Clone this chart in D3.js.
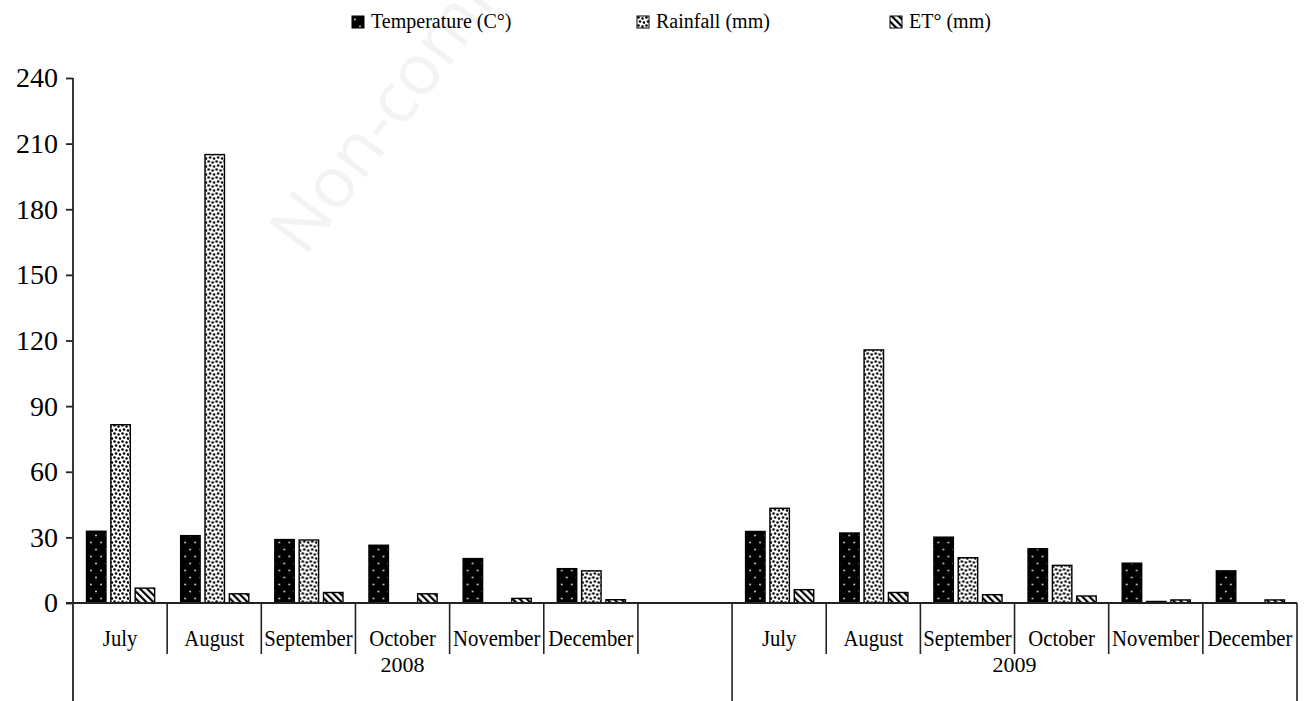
<!DOCTYPE html>
<html>
<head>
<meta charset="utf-8">
<script src="https://cdn.jsdelivr.net/npm/d3@7"></script>
<style>
  body { margin: 0; background: #fff; }
  svg { display: block; }
  text { font-family: "Liberation Serif", "DejaVu Serif", serif; fill: #000; }
</style>
</head>
<body>
<svg id="chart" width="1304" height="701"></svg>
<script>
// values
const months = ["July", "August", "September", "October", "November", "December"];
const years = ["2008", "2009"];
const series = ["Temperature (C°)", "Rainfall (mm)", "ET° (mm)"];
const yTicks = [0, 30, 60, 90, 120, 150, 180, 210, 240];

const temperature2008 = [32.8, 30.8, 29.0, 26.4, 20.3, 15.7];
const rainfall2008 = [81.5, 205, 28.8, 0, 0, 14.7];
const et2008 = [6.8, 4.2, 4.8, 4.2, 2.1, 1.5];

const temperature2009 = [32.7, 32.0, 30.1, 24.8, 18.2, 14.7];
const rainfall2009 = [43.3, 115.7, 20.7, 17.2, 0.7, 0];
const et2009 = [6.1, 4.8, 3.8, 3.2, 1.4, 1.4];

// 2008 has one empty slot after December
const yearSlots = { "2008": months.concat([""]), "2009": months };
const byYear = {
  "2008": [temperature2008, rainfall2008, et2008],
  "2009": [temperature2009, rainfall2009, et2009]
};

const rows = [];
years.forEach(yr => {
  yearSlots[yr].forEach((m, i) => {
    const vals = m ? byYear[yr].map(s => s[i]) : null;
    rows.push({ key: yr + "-" + (m || "gap"), year: yr, month: m, values: vals });
  });
});

const svg = d3.select("#chart");
const plotLeft = 73, plotRight = 1297, plotTop = 78, plotBase = 603;

const x0 = d3.scaleBand().domain(rows.map(d => d.key)).range([plotLeft, plotRight]).padding(0);
const x1 = d3.scaleBand().domain(series).range([13.5, x0.bandwidth() - 12.5]).paddingInner(0.2);
const y = d3.scaleLinear().domain([0, 240]).range([plotBase, plotTop]);

// fill patterns
const defs = svg.append("defs");
const pTemp = defs.append("pattern").attr("id", "p-temp").attr("patternUnits", "userSpaceOnUse")
  .attr("width", 10).attr("height", 14);
pTemp.append("rect").attr("width", 10).attr("height", 14).attr("fill", "#000");
pTemp.append("circle").attr("cx", 3).attr("cy", 3.5).attr("r", 1).attr("fill", "#ccc");
pTemp.append("circle").attr("cx", 8).attr("cy", 10.5).attr("r", 1).attr("fill", "#ccc");

// loose staggered dots for rainfall
const pRain = defs.append("pattern").attr("id", "p-rain").attr("patternUnits", "userSpaceOnUse")
  .attr("width", 8).attr("height", 8);
pRain.append("rect").attr("width", 8).attr("height", 8).attr("fill", "#fff");
[[1.5, 1.5], [5.5, 2.5], [3, 5.5], [7, 6.5]].forEach(p => {
  pRain.append("circle").attr("cx", p[0]).attr("cy", p[1]).attr("r", 1.3).attr("fill", "#000");
});

const pEt = defs.append("pattern").attr("id", "p-et").attr("patternUnits", "userSpaceOnUse")
  .attr("width", 5).attr("height", 5).attr("patternTransform", "rotate(-45)");
pEt.append("rect").attr("width", 5).attr("height", 5).attr("fill", "#fff");
pEt.append("rect").attr("x", 0).attr("width", 2.2).attr("height", 5).attr("fill", "#000");

const fills = ["url(#p-temp)", "url(#p-rain)", "url(#p-et)"];

// watermark
svg.append("text")
  .attr("transform", "translate(305,258) rotate(-53)")
  .style("font-family", "'Open Sans', sans-serif")
  .style("font-size", "70px")
  .style("fill", "#f3f3f3")
  .text("Non-commercial use only");

// bars
const groups = svg.append("g").selectAll("g")
  .data(rows.filter(d => d.values))
  .join("g")
  .attr("transform", d => `translate(${x0(d.key)},0)`);

groups.selectAll("rect")
  .data(d => d.values.map((v, i) => ({ s: series[i], v: v, i: i })).filter(b => b.v > 0))
  .join("rect")
  .attr("x", d => x1(d.s))
  .attr("width", x1.bandwidth())
  .attr("y", d => y(d.v))
  .attr("height", d => y(0) - y(d.v))
  .attr("fill", d => fills[d.i])
  .attr("stroke", "#000")
  .attr("stroke-width", 1.4);

// y axis
const yAxis = svg.append("g").attr("transform", `translate(${plotLeft},0)`)
  .call(d3.axisLeft(y).tickValues(yTicks).tickSize(7).tickPadding(8));
yAxis.select(".domain").remove();
yAxis.selectAll(".tick line").attr("stroke", "#222").attr("stroke-width", 1.8);
yAxis.selectAll(".tick text")
  .style("font-family", "'Liberation Serif', serif")
  .style("font-size", "28px")
  .attr("fill", "#000");
svg.append("line").attr("x1", plotLeft).attr("x2", plotLeft).attr("y1", plotTop).attr("y2", 701)
  .attr("stroke", "#222").attr("stroke-width", 1.8);

// category axis
const cat = svg.append("g");
cat.append("line").attr("x1", plotLeft - 7).attr("x2", plotRight).attr("y1", plotBase).attr("y2", plotBase)
  .attr("stroke", "#222").attr("stroke-width", 1.8);

rows.forEach((d, i) => {
  const xs = x0(d.key);
  if (i > 0) {
    const yearStart = rows[i - 1].year !== d.year;
    cat.append("line").attr("x1", xs).attr("x2", xs).attr("y1", plotBase)
      .attr("y2", yearStart ? 701 : 654)
      .attr("stroke", "#222").attr("stroke-width", 1.6);
  }
  if (d.month) {
    cat.append("text")
      .attr("transform", `translate(${xs + x0.bandwidth() / 2},646) scale(0.9,1)`)
      .attr("text-anchor", "middle").style("font-size", "23px").text(d.month);
  }
});
cat.append("line").attr("x1", plotRight).attr("x2", plotRight).attr("y1", plotBase).attr("y2", 701)
  .attr("stroke", "#222").attr("stroke-width", 1.6);

years.forEach(yr => {
  const keys = rows.filter(d => d.year === yr).map(d => d.key);
  const a = x0(keys[0]), b = x0(keys[keys.length - 1]) + x0.bandwidth();
  cat.append("text").attr("x", (a + b) / 2).attr("y", 672)
    .attr("text-anchor", "middle").style("font-size", "22px").text(yr);
});

// legend
const legendX = [352, 637, 890];
const legend = svg.append("g").selectAll("g").data(series).join("g")
  .attr("transform", (d, i) => `translate(${legendX[i]},16)`);
legend.append("rect").attr("width", 12).attr("height", 12)
  .attr("fill", (d, i) => fills[i]).attr("stroke", "#000").attr("stroke-width", 1);
legend.append("text").attr("x", 19).attr("y", 12).style("font-size", "20px").text(d => d);
</script>
</body>
</html>
